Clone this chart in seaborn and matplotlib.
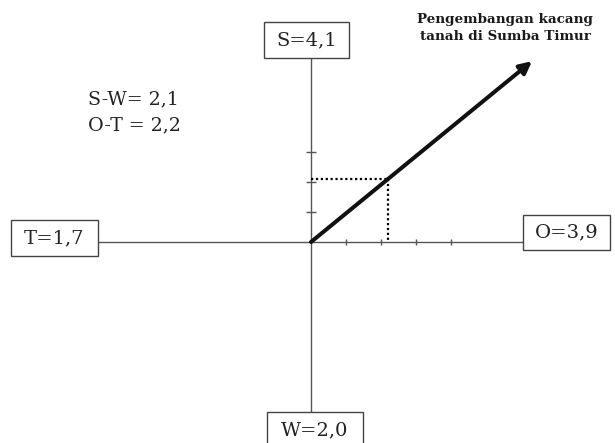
import matplotlib
matplotlib.use("Agg")
import matplotlib.pyplot as plt
from matplotlib.patches import Rectangle
import seaborn as sns
import pandas as pd

# ---- data ----
factors = ["S", "W", "O", "T"]
scores = [4.1, 2.0, 3.9, 1.7]
y_ticks = [1, 2, 3]
x_ticks = [1, 2, 3, 4]
title_lines = ["Pengembangan kacang", "tanah di Sumba Timur"]

score = dict(zip(factors, scores))
sw = round(score["S"] - score["W"], 1)
ot = round(score["O"] - score["T"], 1)

def fmt(v):
    return f"{v:.1f}".replace(".", ",")

sns.set_theme(style="white")
plt.rcParams["font.family"] = ["DejaVu Serif"]

# pixel -> data mapping helpers (layout only)
OX, OY, SX, SY = 311, 242, 35.0, 30.0
W, H = 615, 443
def dx(px): return (px - OX) / SX
def dy(py): return (OY - py) / SY

fig = plt.figure(figsize=(6.15, 4.43), dpi=100)
ax = fig.add_axes([0, 0, 1, 1])
ax.set_xlim(dx(0), dx(W))
ax.set_ylim(dy(H), dy(0))
ax.axis("off")

axis_col = "#555555"
# axes lines
ax.plot([0, 0], [dy(58), dy(412)], color=axis_col, lw=1.0, zorder=1)
ax.plot([dx(98), dx(523)], [0, 0], color=axis_col, lw=1.0, zorder=1)

# ticks
tick_df_y = pd.DataFrame({"x": [0] * len(y_ticks), "y": y_ticks})
tick_df_x = pd.DataFrame({"x": x_ticks, "y": [0] * len(x_ticks)})
sns.scatterplot(data=tick_df_y, x="x", y="y", marker="_", s=45, color=axis_col,
                linewidth=1.0, ax=ax, legend=False, zorder=2)
sns.scatterplot(data=tick_df_x, x="x", y="y", marker="|", s=25, color=axis_col,
                linewidth=1.0, ax=ax, legend=False, zorder=2)

# dotted projection lines
dot_h = pd.DataFrame({"x": [0, ot], "y": [sw, sw]})
dot_v = pd.DataFrame({"x": [ot, ot], "y": [sw, 0]})
for d in (dot_h, dot_v):
    sns.lineplot(data=d, x="x", y="y", color="black", lw=1.6,
                 linestyle=(0, (1, 1.2)), ax=ax, estimator=None, sort=False, zorder=3)

# strategy arrow
k = 2.87
ax.annotate("", xy=(ot * k, sw * k), xytext=(0, 0),
            arrowprops=dict(arrowstyle="-|>", lw=2.9, mutation_scale=18,
                            color="#111111", shrinkA=0, shrinkB=0), zorder=4)

# boxes (pixel extents: left, top, right, bottom)
boxes = {
    "S": (264, 22, 349, 58),
    "T": (11, 220, 98, 256),
    "O": (523, 215, 610, 250),
    "W": (267, 412, 363, 460),
}
text_y = {"S": 40, "T": 238, "O": 232.5, "W": 430}
for f in factors:
    l, t, r, b = boxes[f]
    ax.add_patch(Rectangle((dx(l), dy(b)), dx(r) - dx(l), dy(t) - dy(b),
                           fill=True, facecolor="white", edgecolor="#444444",
                           lw=1.0, zorder=5, clip_on=False))
    ax.text(dx((l + r) / 2), dy(text_y[f]), f"{f}={fmt(score[f])}",
            ha="center", va="center", fontsize=14, color="#222222", zorder=6)

# differences
ax.text(dx(88), dy(99), f"S-W= {fmt(sw)}", ha="left", va="center",
        fontsize=13.7, color="#222222")
ax.text(dx(88), dy(125), f"O-T = {fmt(ot)}", ha="left", va="center",
        fontsize=13.7, color="#222222")

# title
ax.text(dx(505), dy(28), "\n".join(title_lines), ha="center", va="center",
        fontsize=9.7, fontweight="bold", color="#1a1a1a", linespacing=1.5)

fig.savefig("out.png", dpi=100)
